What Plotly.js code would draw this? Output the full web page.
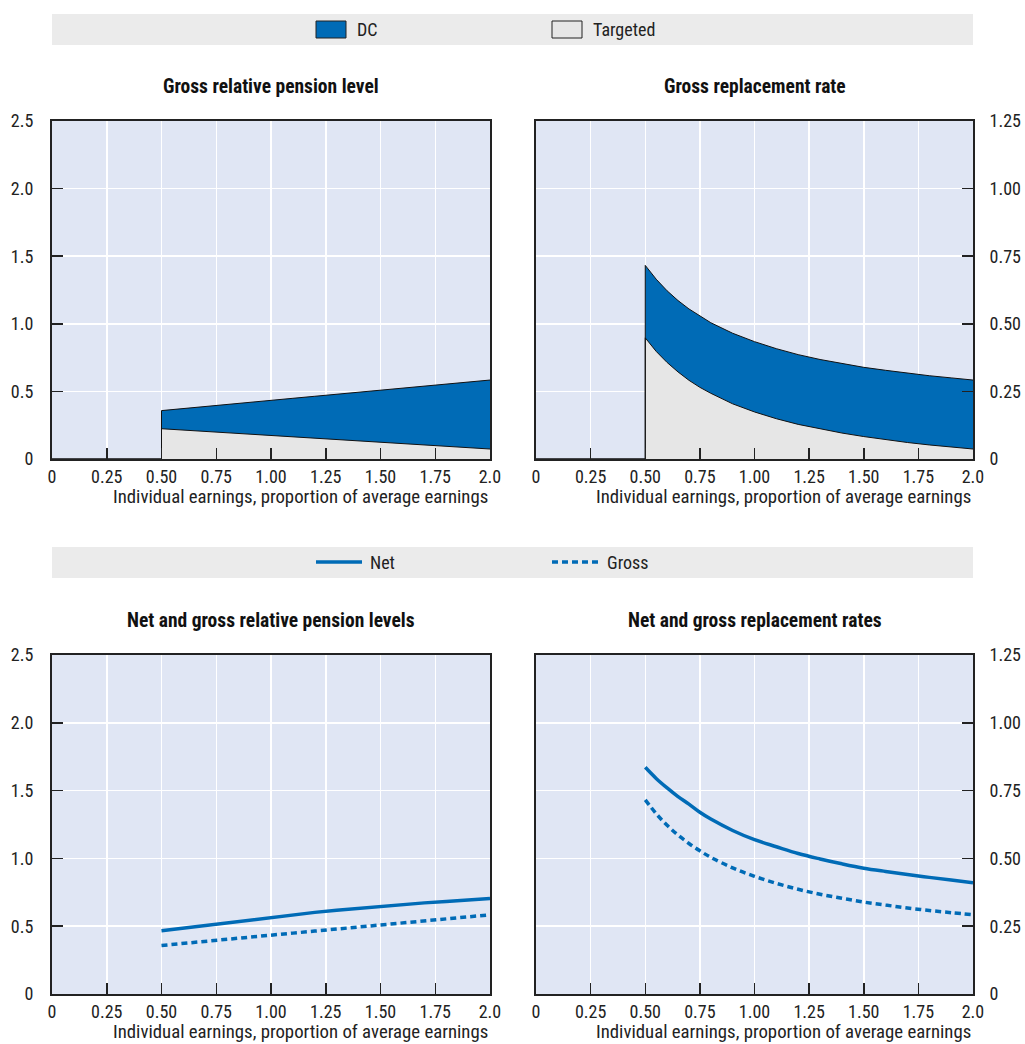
<!DOCTYPE html>
<html><head><meta charset="utf-8">
<script src="https://cdn.plot.ly/plotly-3.0.1.min.js"></script>
<style>html,body{margin:0;padding:0;background:#fff}</style>
</head><body><div id="chart" style="width:1025px;height:1044px"></div>
<script>
// ---- data ----
const earnings = [0.5,0.55,0.6,0.65,0.7,0.75,0.8,0.9,1.0,1.1,1.2,1.3,1.4,1.5,1.6,1.7,1.8,1.9,2.0];
const targetedLevel = [0.224,0.219,0.214,0.209,0.204,0.199,0.194,0.184,0.174,0.164,0.154,0.144,0.134,0.124,0.114,0.104,0.094,0.084,0.074];
const dcLevel = [0.134,0.147,0.159,0.172,0.184,0.197,0.209,0.234,0.260,0.285,0.310,0.335,0.360,0.385,0.410,0.435,0.460,0.485,0.510];
const targetedRate = [0.448,0.398,0.357,0.322,0.291,0.265,0.243,0.204,0.174,0.149,0.128,0.111,0.096,0.083,0.071,0.061,0.052,0.044,0.037];
const dcRate = [0.268,0.267,0.265,0.264,0.264,0.263,0.261,0.261,0.260,0.259,0.258,0.257,0.257,0.256,0.257,0.256,0.256,0.256,0.255];
const netLevel = [0.466,0.476,0.485,0.495,0.505,0.514,0.524,0.543,0.563,0.582,0.602,0.618,0.633,0.648,0.660,0.672,0.683,0.694,0.704];
const grossLevel = [0.358,0.366,0.373,0.381,0.388,0.396,0.403,0.418,0.434,0.449,0.464,0.479,0.494,0.509,0.524,0.539,0.554,0.569,0.584];
const netRate = [0.836,0.795,0.760,0.728,0.700,0.670,0.645,0.603,0.569,0.543,0.518,0.498,0.480,0.464,0.452,0.441,0.430,0.420,0.410];
const grossRate = [0.716,0.665,0.622,0.586,0.555,0.528,0.504,0.465,0.434,0.408,0.386,0.368,0.353,0.339,0.328,0.317,0.308,0.300,0.292];

const xTickVals = [0,0.25,0.5,0.75,1,1.25,1.5,1.75,2];
const xTickText = ["0","0.25","0.50","0.75","1.00","1.25","1.50","1.75","2.0"];
const yLeftVals = [0,0.5,1,1.5,2,2.5];
const yLeftText = ["0","0.5","1.0","1.5","2.0","2.5"];
const yRightVals = [0,0.25,0.5,0.75,1,1.25];
const yRightText = ["0","0.25","0.50","0.75","1.00","1.25"];

const panelTitles = ["Gross relative pension level","Gross replacement rate","Net and gross relative pension levels","Net and gross replacement rates"];
const xTitle = "Individual earnings, proportion of average earnings";
const legendTop = ["DC","Targeted"];
const legendBottom = ["Net","Gross"];

// ---- styles ----
const BLUE = '#006BB6', GREY_FILL = '#E6E6E6', BAR = '#EBEBEB', AX = '#222222';
const FONT = '"Roboto Condensed","Liberation Sans Narrow","Arial Narrow",sans-serif';
const W = 1025, H = 1044;
const px = v => v / W, py = v => 1 - v / H;

// pre-0.5 zero segment so the area edge at 0.5 is drawn
const xa = [0, 0.5].concat(earnings);
const pad = a => [0, 0].concat(a);
const sum = (a, b) => a.map((v, i) => +(v + b[i]).toFixed(3));

const traces = [
  {x: xa, y: pad(targetedLevel), xaxis:'x', yaxis:'y', mode:'lines', fill:'tozeroy', fillcolor:GREY_FILL, line:{color:'#111', width:1}, name:legendTop[1], showlegend:false, hoverinfo:'skip'},
  {x: xa, y: pad(sum(targetedLevel, dcLevel)), xaxis:'x', yaxis:'y', mode:'lines', fill:'tonexty', fillcolor:BLUE, line:{color:'#111', width:1}, name:legendTop[0], showlegend:false, hoverinfo:'skip'},
  {x: xa, y: pad(targetedRate), xaxis:'x2', yaxis:'y2', mode:'lines', fill:'tozeroy', fillcolor:GREY_FILL, line:{color:'#111', width:1}, name:legendTop[1], showlegend:false, hoverinfo:'skip'},
  {x: xa, y: pad(sum(targetedRate, dcRate)), xaxis:'x2', yaxis:'y2', mode:'lines', fill:'tonexty', fillcolor:BLUE, line:{color:'#111', width:1}, name:legendTop[0], showlegend:false, hoverinfo:'skip'},
  {x: earnings, y: netLevel, xaxis:'x3', yaxis:'y3', mode:'lines', line:{color:BLUE, width:3.5}, name:legendBottom[0], showlegend:false},
  {x: earnings, y: grossLevel, xaxis:'x3', yaxis:'y3', mode:'lines', line:{color:BLUE, width:3.5, dash:'6px,4px'}, name:legendBottom[1], showlegend:false},
  {x: earnings, y: netRate, xaxis:'x4', yaxis:'y4', mode:'lines', line:{color:BLUE, width:3.5, shape:'spline'}, name:legendBottom[0], showlegend:false},
  {x: earnings, y: grossRate, xaxis:'x4', yaxis:'y4', mode:'lines', line:{color:BLUE, width:3.5, dash:'6px,4px', shape:'spline'}, name:legendBottom[1], showlegend:false}
];

const xDomL = [px(52), px(490)], xDomR = [px(536), px(973)];
const yDomT = [py(459), py(121)], yDomB = [py(994), py(655)];

function xAxis(dom, anchor) {
  return {domain: dom, anchor: anchor, range:[0,2], tickmode:'array', tickvals:xTickVals, ticktext:xTickText,
    ticks:'inside', ticklen:11, tickwidth:1.5, tickcolor:AX, showline:true, mirror:true, linecolor:AX, linewidth:2,
    showgrid:true, gridcolor:'#ffffff', gridwidth:1.5, zeroline:false, tickfont:{size:18, color:'#222'}, fixedrange:true};
}
function yAxis(dom, anchor, right) {
  return {domain: dom, anchor: anchor, side: right ? 'right' : 'left',
    range: right ? [0,1.25] : [0,2.5], tickmode:'array',
    tickvals: right ? yRightVals : yLeftVals, ticktext: right ? yRightText : yLeftText,
    ticks:'inside', ticklen:11, tickwidth:1.5, tickcolor:AX, ticklabelstandoff: right ? 11 : 13,
    showline:true, mirror:true, linecolor:AX, linewidth:2,
    showgrid:true, gridcolor:'#ffffff', gridwidth:1.5, zeroline:false, tickfont:{size:18, color:'#222'}, fixedrange:true};
}

const annotations = [];
const axPairs = [['x','y'],['x2','y2'],['x3','y3'],['x4','y4']];
axPairs.forEach((p, i) => {
  annotations.push({xref: p[0] + ' domain', yref: p[1] + ' domain', x: 0.5, y: 1 + 34/338, xanchor:'center', yanchor:'middle',
    text: '<b>' + panelTitles[i] + '</b>', showarrow:false, font:{size:19.5, color:'#111'}});
  annotations.push({xref: p[0] + ' domain', yref: p[1] + ' domain', x: 1, y: -38/338, xanchor:'right', yanchor:'middle',
    text: xTitle, showarrow:false, font:{size:18.8, color:'#222'}});
});
// legend texts
annotations.push({xref:'paper', yref:'paper', x:px(355), y:py(29), xanchor:'left', yanchor:'middle', text:legendTop[0], showarrow:false, font:{size:18, color:'#222'}});
annotations.push({xref:'paper', yref:'paper', x:px(591), y:py(29), xanchor:'left', yanchor:'middle', text:legendTop[1], showarrow:false, font:{size:18, color:'#222'}});
annotations.push({xref:'paper', yref:'paper', x:px(368), y:py(562), xanchor:'left', yanchor:'middle', text:legendBottom[0], showarrow:false, font:{size:18, color:'#222'}});
annotations.push({xref:'paper', yref:'paper', x:px(605), y:py(562), xanchor:'left', yanchor:'middle', text:legendBottom[1], showarrow:false, font:{size:18, color:'#222'}});

const shapes = [
  {type:'rect', xref:'paper', yref:'paper', x0:px(52), x1:px(973), y0:py(45), y1:py(14), fillcolor:BAR, line:{width:0}, layer:'below'},
  {type:'rect', xref:'paper', yref:'paper', x0:px(52), x1:px(973), y0:py(578), y1:py(547), fillcolor:BAR, line:{width:0}, layer:'below'},
  {type:'rect', xref:'paper', yref:'paper', x0:px(316), x1:px(346), y0:py(38), y1:py(21), fillcolor:BLUE, line:{color:'#222', width:1}},
  {type:'rect', xref:'paper', yref:'paper', x0:px(552), x1:px(582), y0:py(38), y1:py(21), fillcolor:GREY_FILL, line:{color:'#222', width:1}},
  {type:'line', xref:'paper', yref:'paper', x0:px(316), x1:px(362), y0:py(562), y1:py(562), line:{color:BLUE, width:3.5}},
  {type:'line', xref:'paper', yref:'paper', x0:px(552), x1:px(598), y0:py(562), y1:py(562), line:{color:BLUE, width:3.5, dash:'6px,4px'}}
];

const layout = {
  width: W, height: H, margin:{l:0, r:0, t:0, b:0},
  paper_bgcolor:'#ffffff', plot_bgcolor:'#E0E6F4',
  font:{family: FONT, size:18, color:'#222'},
  showlegend:false,
  xaxis: xAxis(xDomL, 'y'), yaxis: yAxis(yDomT, 'x', false),
  xaxis2: xAxis(xDomR, 'y2'), yaxis2: yAxis(yDomT, 'x2', true),
  xaxis3: xAxis(xDomL, 'y3'), yaxis3: yAxis(yDomB, 'x3', false),
  xaxis4: xAxis(xDomR, 'y4'), yaxis4: yAxis(yDomB, 'x4', true),
  annotations: annotations, shapes: shapes
};

Plotly.newPlot('chart', traces, layout, {staticPlot:true, displayModeBar:false});
</script></body></html>
